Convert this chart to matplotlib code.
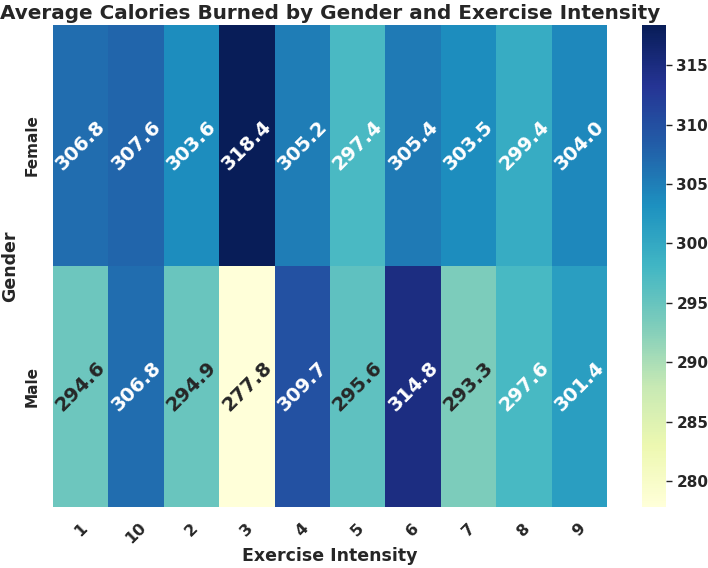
import numpy as np
import pandas as pd
import matplotlib
matplotlib.use('Agg')
import matplotlib.pyplot as plt
import seaborn as sns

intensity = ['1', '10', '2', '3', '4', '5', '6', '7', '8', '9']
genders = ['Female', 'Male']
female = [306.8, 307.6, 303.6, 318.4, 305.2, 297.4, 305.4, 303.5, 299.4, 304.0]
male = [294.6, 306.8, 294.9, 277.8, 309.7, 295.6, 314.8, 293.3, 297.6, 301.4]

sns.set_theme(style='white')
plt.rcParams['font.family'] = ['DejaVu Sans']
plt.rcParams['font.weight'] = 'bold'

df = pd.DataFrame([female, male], index=genders, columns=intensity)

fig = plt.figure(figsize=(7.08, 5.68), dpi=100)
ax = fig.add_axes([0.0749, 0.1074, 0.7825, 0.8486])
cax = fig.add_axes([0.9068, 0.1074, 0.0339, 0.8486])
sns.heatmap(df, annot=True, fmt='.1f', cmap='YlGnBu', ax=ax, cbar_ax=cax,
            annot_kws={'rotation': 45, 'weight': 'bold', 'size': 14})
ax.set_title('Average Calories Burned by Gender and Exercise Intensity',
             fontsize=14.4, fontweight='bold', pad=4)
ax.set_xlabel('Exercise Intensity', fontsize=12.5, fontweight='bold', labelpad=0)
ax.set_ylabel('Gender', fontsize=12.5, fontweight='bold', labelpad=4)
plt.setp(ax.get_xticklabels(), rotation=45, fontsize=11.5, fontweight='bold')
plt.setp(ax.get_yticklabels(), rotation=90, va='center', fontsize=11, fontweight='bold')
cax.tick_params(labelsize=11, left=False, right=True, length=4, width=1, color='#262626')
for t in cax.get_yticklabels():
    t.set_fontweight('bold')
plt.savefig('out.png', dpi=100)
